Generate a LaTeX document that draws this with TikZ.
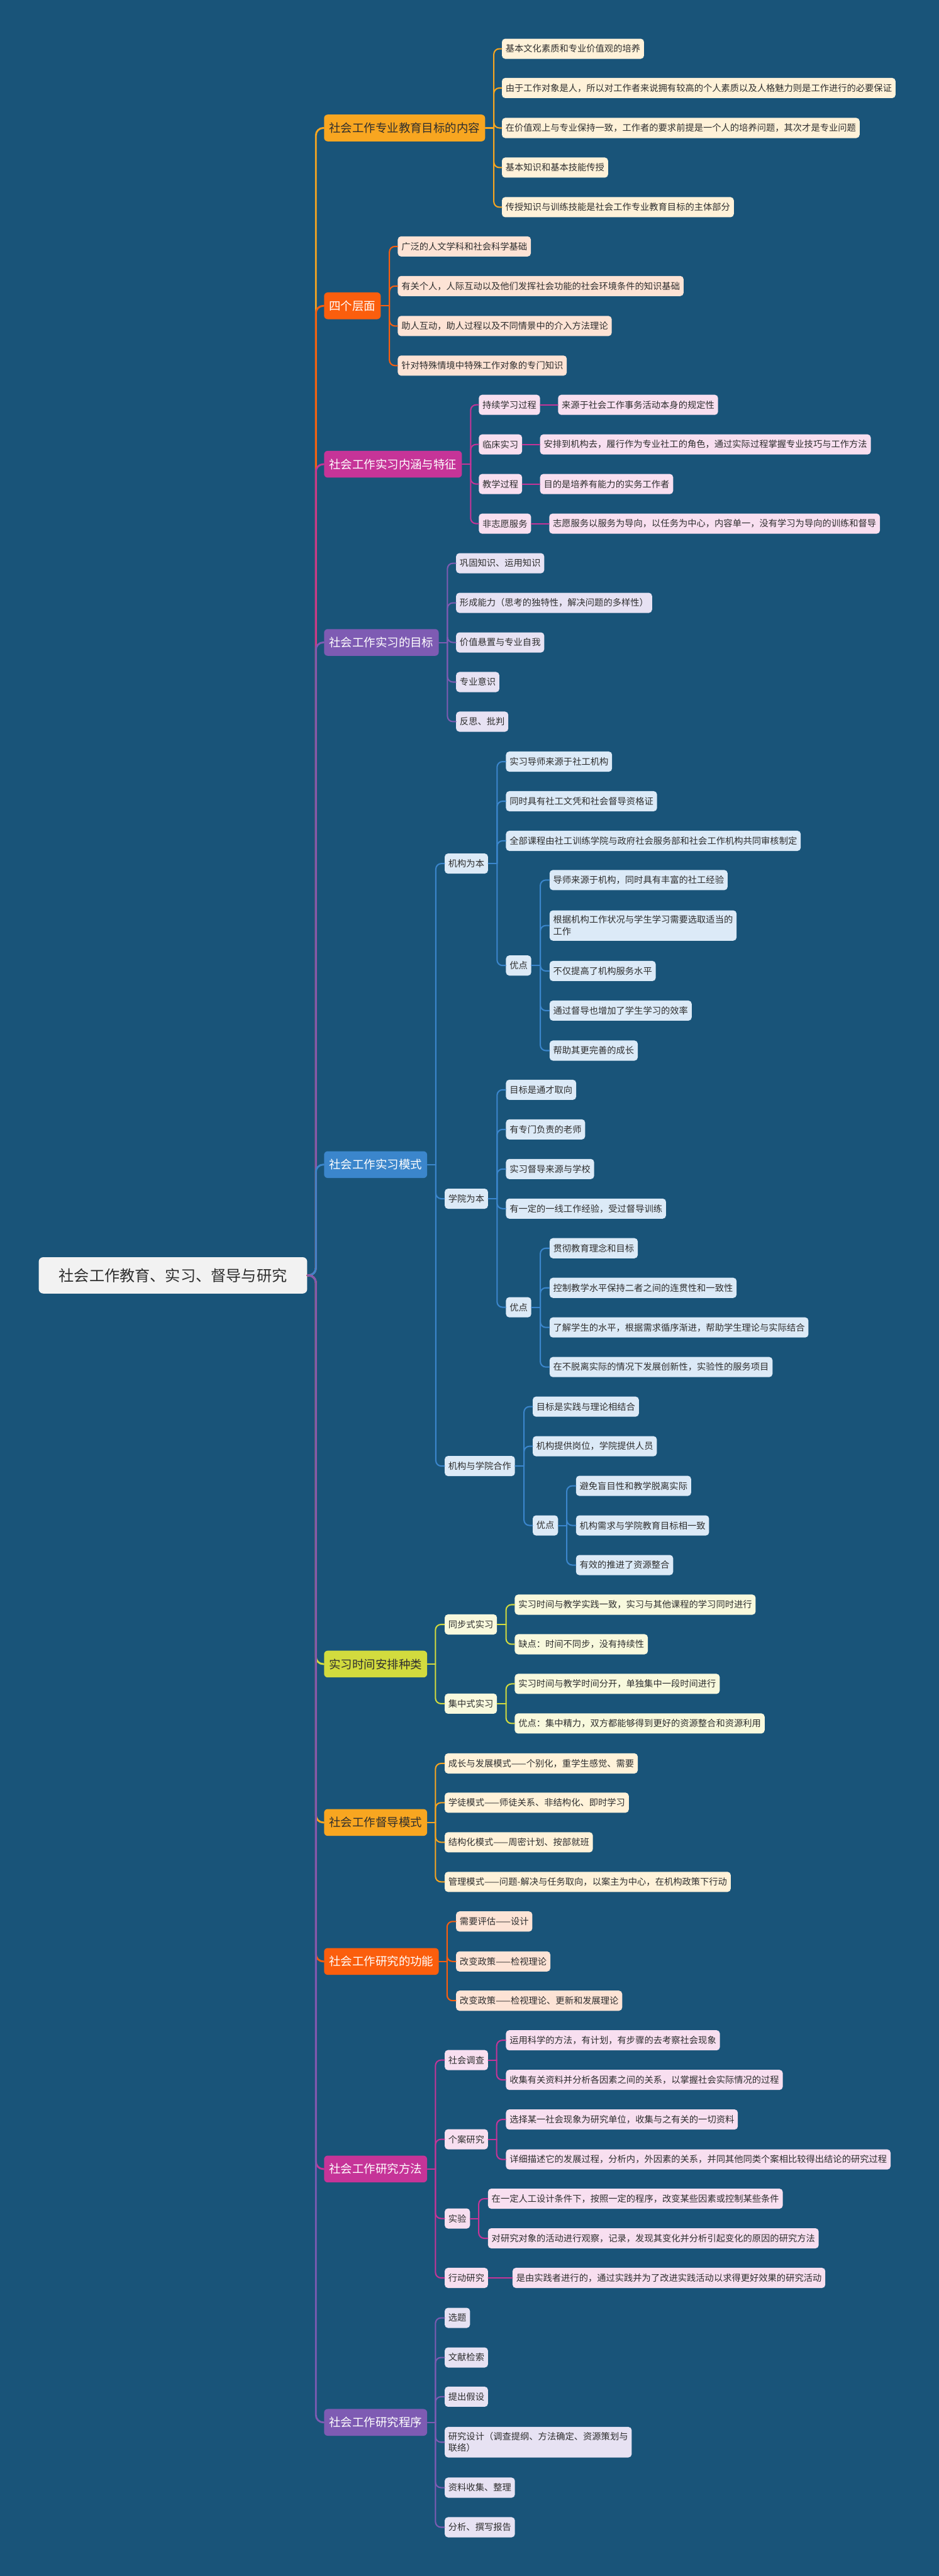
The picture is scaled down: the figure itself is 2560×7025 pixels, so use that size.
\documentclass[tikz,border=0pt]{standalone}
\usepackage{fontspec}
\setmainfont{Noto Sans CJK SC}
\usepackage{xcolor}
\usepackage{tikz}

\definecolor{bg}{HTML}{195479}
\definecolor{ink}{HTML}{2E2E2E}
\definecolor{rootfill}{HTML}{F2F2F2}
\definecolor{amber}{HTML}{F8A620}
\definecolor{amberlt}{HTML}{FFF2D9}
\definecolor{flame}{HTML}{FB5E0D}
\definecolor{flamelt}{HTML}{FDE3D5}
\definecolor{rose}{HTML}{C63498}
\definecolor{roselt}{HTML}{F8DFF0}
\definecolor{violet}{HTML}{7E5BB3}
\definecolor{violetlt}{HTML}{E7E2F3}
\definecolor{sky}{HTML}{3B86CC}
\definecolor{skylt}{HTML}{DCEAF7}
\definecolor{lime}{HTML}{D2DB3E}
\definecolor{limelt}{HTML}{F8F9DD}

\begin{document}
\begin{tikzpicture}[x=0.1mm,y=-0.1mm,line cap=round,
  root/.style={rectangle,rounded corners=0.12cm,fill=rootfill,text=ink,anchor=west,minimum width=7.32cm,minimum height=0.99cm,font=\fontsize{11.8pt}{14pt}\selectfont},
  topic/.style 2 args={rectangle,rounded corners=0.1cm,fill=#1,text=#2,anchor=west,minimum height=0.73cm,inner xsep=0.14cm,inner ysep=0.1cm,font=\fontsize{9pt}{11pt}\selectfont},
  leaf/.style={rectangle,rounded corners=0.09cm,fill=#1,text=ink,anchor=west,minimum height=0.55cm,inner xsep=0.1cm,inner ysep=0.14cm,align=left,font=\fontsize{6.97pt}{9.1pt}\selectfont},
  link/.style={line width=0.05cm,rounded corners=0.2cm,draw=#1},
  sub/.style={line width=0.035cm,rounded corners=0.15cm,draw=#1}]

    \fill[bg] (0,0) rectangle (2560,7025);
    \useasboundingbox (0,0) rectangle (2560,7025);

    % The root
    \node [root] at (105,3478) (R) {社会工作教育、实习、督导与研究};

    % Main topics
    \node [topic={amber}{ink}] at (883,349) (h1) {社会工作专业教育目标的内容};
    \node [topic={flame}{white}] at (883,834) (h2) {四个层面};
    \node [topic={rose}{white}] at (883,1266) (h3) {社会工作实习内涵与特征};
    \node [topic={violet}{white}] at (883,1752) (h4) {社会工作实习的目标};
    \node [topic={sky}{white}] at (883,3176) (h5) {社会工作实习模式};
    \node [topic={lime}{ink}] at (883,4538) (h6) {实习时间安排种类};
    \node [topic={amber}{ink}] at (883,4970) (h7) {社会工作督导模式};
    \node [topic={flame}{white}] at (883,5349) (h8) {社会工作研究的功能};
    \node [topic={rose}{white}] at (883,5915) (h9) {社会工作研究方法};
    \node [topic={violet}{white}] at (883,6606) (h10) {社会工作研究程序};

    % Education goals
    \node [leaf=amberlt] at (1368,133) (a1) {基本文化素质和专业价值观的培养};
    \node [leaf=amberlt] at (1368,240) (a2) {由于工作对象是人，所以对工作者来说拥有较高的个人素质以及人格魅力则是工作进行的必要保证};
    \node [leaf=amberlt] at (1368,349) (a3) {在价值观上与专业保持一致，工作者的要求前提是一个人的培养问题，其次才是专业问题};
    \node [leaf=amberlt] at (1368,457) (a4) {基本知识和基本技能传授};
    \node [leaf=amberlt] at (1368,565) (a5) {传授知识与训练技能是社会工作专业教育目标的主体部分};

    % Four levels
    \node [leaf=flamelt] at (1084,672) (b1) {广泛的人文学科和社会科学基础};
    \node [leaf=flamelt] at (1084,780) (b2) {有关个人，人际互动以及他们发挥社会功能的社会环境条件的知识基础};
    \node [leaf=flamelt] at (1084,889) (b3) {助人互动，助人过程以及不同情景中的介入方法理论};
    \node [leaf=flamelt] at (1084,997) (b4) {针对特殊情境中特殊工作对象的专门知识};

    % Internship meaning
    \node [leaf=roselt] at (1305,1104) (c1) {持续学习过程};
    \node [leaf=roselt] at (1521,1104) (c1d) {来源于社会工作事务活动本身的规定性};
    \node [leaf=roselt] at (1305,1212) (c2) {临床实习};
    \node [leaf=roselt] at (1472,1212) (c2d) {安排到机构去，履行作为专业社工的角色，通过实际过程掌握专业技巧与工作方法};
    \node [leaf=roselt] at (1305,1320) (c3) {教学过程};
    \node [leaf=roselt] at (1472,1320) (c3d) {目的是培养有能力的实务工作者};
    \node [leaf=roselt] at (1305,1428) (c4) {非志愿服务};
    \node [leaf=roselt] at (1497,1428) (c4d) {志愿服务以服务为导向，以任务为中心，内容单一，没有学习为导向的训练和督导};

    % Internship goals
    \node [leaf=violetlt] at (1243,1536) (d1) {巩固知识、运用知识};
    \node [leaf=violetlt] at (1243,1644) (d2) {形成能力（思考的独特性，解决问题的多样性）};
    \node [leaf=violetlt] at (1243,1752) (d3) {价值悬置与专业自我};
    \node [leaf=violetlt] at (1243,1860) (d4) {专业意识};
    \node [leaf=violetlt] at (1243,1968) (d5) {反思、批判};

    % Internship models
    \node [leaf=skylt] at (1212,2355) (e1) {机构为本};
    \node [leaf=skylt] at (1379,2077) (e11) {实习导师来源于社工机构};
    \node [leaf=skylt] at (1379,2185) (e12) {同时具有社工文凭和社会督导资格证};
    \node [leaf=skylt] at (1379,2293) (e13) {全部课程由社工训练学院与政府社会服务部和社会工作机构共同审核制定};
    \node [leaf=skylt] at (1379,2633) (e14) {优点};
    \node [leaf=skylt] at (1498,2400) (e141) {导师来源于机构，同时具有丰富的社工经验};
    \node [leaf=skylt] at (1498,2524) (e142) {根据机构工作状况与学生学习需要选取适当的\\工作};
    \node [leaf=skylt] at (1498,2648) (e143) {不仅提高了机构服务水平};
    \node [leaf=skylt] at (1498,2756) (e144) {通过督导也增加了学生学习的效率};
    \node [leaf=skylt] at (1498,2865) (e145) {帮助其更完善的成长};

    \node [leaf=skylt] at (1212,3269) (e2) {学院为本};
    \node [leaf=skylt] at (1379,2972) (e21) {目标是通才取向};
    \node [leaf=skylt] at (1379,3080) (e22) {有专门负责的老师};
    \node [leaf=skylt] at (1379,3188) (e23) {实习督导来源与学校};
    \node [leaf=skylt] at (1379,3296) (e24) {有一定的一线工作经验，受过督导训练};
    \node [leaf=skylt] at (1379,3565) (e25) {优点};
    \node [leaf=skylt] at (1498,3404) (e251) {贯彻教育理念和目标};
    \node [leaf=skylt] at (1498,3512) (e252) {控制教学水平保持二者之间的连贯性和一致性};
    \node [leaf=skylt] at (1498,3620) (e253) {了解学生的水平，根据需求循序渐进，帮助学生理论与实际结合};
    \node [leaf=skylt] at (1498,3728) (e254) {在不脱离实际的情况下发展创新性，实验性的服务项目};

    \node [leaf=skylt] at (1212,3998) (e3) {机构与学院合作};
    \node [leaf=skylt] at (1452,3836) (e31) {目标是实践与理论相结合};
    \node [leaf=skylt] at (1452,3944) (e32) {机构提供岗位，学院提供人员};
    \node [leaf=skylt] at (1452,4160) (e33) {优点};
    \node [leaf=skylt] at (1570,4052) (e331) {避免盲目性和教学脱离实际};
    \node [leaf=skylt] at (1570,4160) (e332) {机构需求与学院教育目标相一致};
    \node [leaf=skylt] at (1570,4268) (e333) {有效的推进了资源整合};

    % Time arrangement
    \node [leaf=limelt] at (1212,4430) (f1) {同步式实习};
    \node [leaf=limelt] at (1403,4376) (f11) {实习时间与教学实践一致，实习与其他课程的学习同时进行};
    \node [leaf=limelt] at (1403,4484) (f12) {缺点：时间不同步，没有持续性};
    \node [leaf=limelt] at (1212,4646) (f2) {集中式实习};
    \node [leaf=limelt] at (1403,4592) (f21) {实习时间与教学时间分开，单独集中一段时间进行};
    \node [leaf=limelt] at (1403,4700) (f22) {优点：集中精力，双方都能够得到更好的资源整合和资源利用};

    % Supervision models
    \node [leaf=amberlt] at (1212,4809) (g1) {成长与发展模式——个别化，重学生感觉、需要};
    \node [leaf=amberlt] at (1212,4916) (g2) {学徒模式——师徒关系、非结构化、即时学习};
    \node [leaf=amberlt] at (1212,5024) (g3) {结构化模式——周密计划、按部就班};
    \node [leaf=amberlt] at (1212,5132) (g4) {管理模式——问题-解决与任务取向，以案主为中心，在机构政策下行动};

    % Research functions
    \node [leaf=flamelt] at (1243,5240) (k1) {需要评估——设计};
    \node [leaf=flamelt] at (1243,5349) (k2) {改变政策——检视理论};
    \node [leaf=flamelt] at (1243,5456) (k3) {改变政策——检视理论、更新和发展理论};

    % Research methods
    \node [leaf=roselt] at (1212,5618) (m1) {社会调查};
    \node [leaf=roselt] at (1379,5564) (m11) {运用科学的方法，有计划，有步骤的去考察社会现象};
    \node [leaf=roselt] at (1379,5672) (m12) {收集有关资料并分析各因素之间的关系，以掌握社会实际情况的过程};
    \node [leaf=roselt] at (1212,5834) (m2) {个案研究};
    \node [leaf=roselt] at (1379,5780) (m21) {选择某一社会现象为研究单位，收集与之有关的一切资料};
    \node [leaf=roselt] at (1379,5889) (m22) {详细描述它的发展过程，分析内，外因素的关系，并同其他同类个案相比较得出结论的研究过程};
    \node [leaf=roselt] at (1212,6050) (m3) {实验};
    \node [leaf=roselt] at (1330,5996) (m31) {在一定人工设计条件下，按照一定的程序，改变某些因素或控制某些条件};
    \node [leaf=roselt] at (1330,6104) (m32) {对研究对象的活动进行观察，记录，发现其变化并分析引起变化的原因的研究方法};
    \node [leaf=roselt] at (1212,6212) (m4) {行动研究};
    \node [leaf=roselt] at (1397,6212) (m41) {是由实践者进行的，通过实践并为了改进实践活动以求得更好效果的研究活动};

    % Research procedure
    \node [leaf=violetlt] at (1212,6321) (n1) {选题};
    \node [leaf=violetlt] at (1212,6429) (n2) {文献检索};
    \node [leaf=violetlt] at (1212,6536) (n3) {提出假设};
    \node [leaf=violetlt] at (1212,6660) (n4) {研究设计（调查提纲、方法确定、资源策划与\\联络）};
    \node [leaf=violetlt] at (1212,6784) (n5) {资料收集、整理};
    \node [leaf=violetlt] at (1212,6892) (n6) {分析、撰写报告};

    % Branches from the root
    \foreach \h/\c in {h1/amber,h2/flame,h3/rose,h4/violet,h5/sky,h6/lime,h7/amber,h8/flame,h9/rose,h10/violet}
        \draw[link=\c] (R.east) -- ++(23,0) |- (\h.west);

    % Branches to the leaves
    \draw[sub=amber] (h1.east) -- ++(23,0);
    \foreach \c in {a1,a2,a3,a4,a5}
        \draw[sub=amber] (h1.east) ++(23,0) |- (\c.west);
    \draw[sub=flame] (h2.east) -- ++(23,0);
    \foreach \c in {b1,b2,b3,b4}
        \draw[sub=flame] (h2.east) ++(23,0) |- (\c.west);
    \draw[sub=rose] (h3.east) -- ++(23,0);
    \foreach \c in {c1,c2,c3,c4}
        \draw[sub=rose] (h3.east) ++(23,0) |- (\c.west);
    \foreach \c in {c1,c2,c3,c4}
        \draw[sub=rose] (\c.east) -- (\c d.west);
    \draw[sub=violet] (h4.east) -- ++(23,0);
    \foreach \c in {d1,d2,d3,d4,d5}
        \draw[sub=violet] (h4.east) ++(23,0) |- (\c.west);

    \draw[sub=sky] (h5.east) -- ++(23,0);
    \foreach \c in {e1,e2,e3}
        \draw[sub=sky] (h5.east) ++(23,0) |- (\c.west);
    \draw[sub=sky] (e1.east) -- ++(24,0);
    \foreach \c in {e11,e12,e13,e14}
        \draw[sub=sky] (e1.east) ++(24,0) |- (\c.west);
    \draw[sub=sky] (e14.east) -- ++(24,0);
    \foreach \c in {e141,e142,e143,e144,e145}
        \draw[sub=sky] (e14.east) ++(24,0) |- (\c.west);
    \draw[sub=sky] (e2.east) -- ++(24,0);
    \foreach \c in {e21,e22,e23,e24,e25}
        \draw[sub=sky] (e2.east) ++(24,0) |- (\c.west);
    \draw[sub=sky] (e25.east) -- ++(24,0);
    \foreach \c in {e251,e252,e253,e254}
        \draw[sub=sky] (e25.east) ++(24,0) |- (\c.west);
    \draw[sub=sky] (e3.east) -- ++(24,0);
    \foreach \c in {e31,e32,e33}
        \draw[sub=sky] (e3.east) ++(24,0) |- (\c.west);
    \draw[sub=sky] (e33.east) -- ++(23,0);
    \foreach \c in {e331,e332,e333}
        \draw[sub=sky] (e33.east) ++(23,0) |- (\c.west);

    \draw[sub=lime] (h6.east) -- ++(22,0);
    \foreach \c in {f1,f2}
        \draw[sub=lime] (h6.east) ++(22,0) |- (\c.west);
    \foreach \p in {f1,f2} {
        \draw[sub=lime] (\p.east) -- ++(24,0);
        \foreach \c in {1,2}
            \draw[sub=lime] (\p.east) ++(24,0) |- (\p\c.west);
    }

    \draw[sub=amber] (h7.east) -- ++(22,0);
    \foreach \c in {g1,g2,g3,g4}
        \draw[sub=amber] (h7.east) ++(22,0) |- (\c.west);

    \draw[sub=flame] (h8.east) -- ++(22,0);
    \foreach \c in {k1,k2,k3}
        \draw[sub=flame] (h8.east) ++(22,0) |- (\c.west);

    \draw[sub=rose] (h9.east) -- ++(22,0);
    \foreach \c in {m1,m2,m3,m4}
        \draw[sub=rose] (h9.east) ++(22,0) |- (\c.west);
    \foreach \p in {m1,m2,m3} {
        \draw[sub=rose] (\p.east) -- ++(23,0);
        \foreach \c in {1,2}
            \draw[sub=rose] (\p.east) ++(23,0) |- (\p\c.west);
    }
    \draw[sub=rose] (m4.east) -- (m41.west);

    \draw[sub=violet] (h10.east) -- ++(22,0);
    \foreach \c in {n1,n2,n3,n4,n5,n6}
        \draw[sub=violet] (h10.east) ++(22,0) |- (\c.west);
\end{tikzpicture}
\end{document}
